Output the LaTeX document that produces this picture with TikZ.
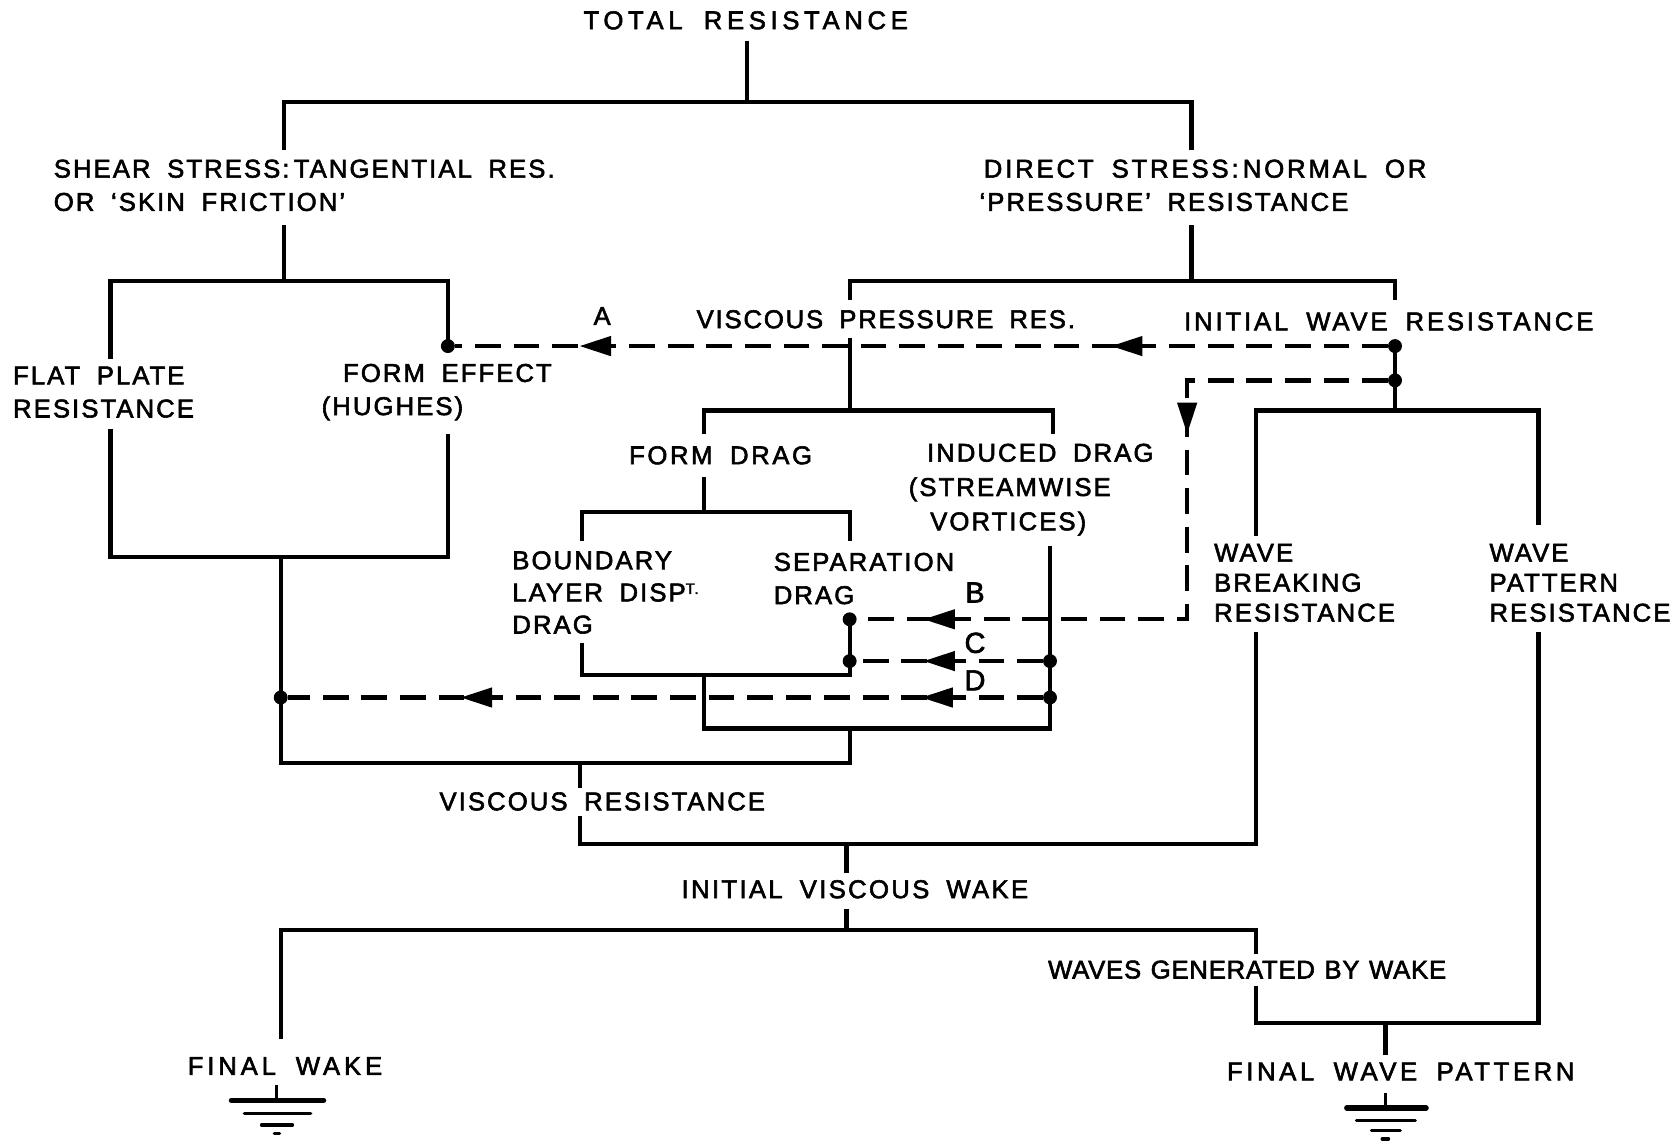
\documentclass[tikz,border=0pt]{standalone}
\usepackage{fontspec}
\setmainfont{Liberation Sans}[LetterSpace=8,WordSpace=1.8,FakeBold=2.2]
\newfontfamily\narrowlbl{Liberation Sans}[LetterSpace=3,WordSpace=1.2,FakeBold=2.2]
\usetikzlibrary{decorations.markings}
\begin{document}
\begin{tikzpicture}[x=1pt,y=-1pt,
  lbl/.style={inner sep=0pt, anchor=west, align=left, font=\fontsize{24}{31}\selectfont},
  clbl/.style={inner sep=0pt, anchor=center, align=center, font=\fontsize{24}{31}\selectfont},
  solidline/.style={line width=4pt, line cap=butt, line join=miter},
  dashline/.style={line width=4pt, dash pattern=on 24pt off 12pt},
  junc/.style={circle, fill=black, inner sep=0pt, minimum size=13pt},
  tipat/.style={postaction={decorate, decoration={markings,
      mark=at position #1 with {\fill[solid] (0pt,0pt) -- (-29pt,9.5pt) -- (-29pt,-9.5pt) -- cycle;}}}},
  groundline/.style={line width=3pt, line cap=round}
]
\fill[white] (0,0) rectangle (1568,1068);
\useasboundingbox (0,0) rectangle (1568,1068);

% ---------- texts ----------
\node[clbl] (total) at (696,19) {\addfontfeature{LetterSpace=18}TOTAL RESISTANCE};
\node[lbl] (shear) at (50,173) {SHEAR STRESS:\,TANGENTIAL RES.\\OR ‘SKIN FRICTION’};
\node[lbl] (direct) at (914,173) {\addfontfeature{LetterSpace=11}\hspace*{4pt}DIRECT STRESS:\,NORMAL OR\\‘PRESSURE’ RESISTANCE};
\node[lbl] (flat) at (12,366) {FLAT PLATE\\RESISTANCE};
\node[lbl] (formeff) at (300,366) {\hspace*{20pt}FORM EFFECT\\(HUGHES)};
\node[lbl] (vpr) at (650,298) {\addfontfeature{LetterSpace=7}VISCOUS PRESSURE RES.};
\node[lbl] (iwr) at (1105,300) {\addfontfeature{LetterSpace=11}INITIAL WAVE RESISTANCE};
\node[clbl] (labA) at (562,295) {A};
\node[lbl] (formdrag) at (587,425) {\addfontfeature{LetterSpace=10}FORM DRAG};
\node[lbl, font=\fontsize{24}{32}\selectfont] (induced) at (848,457) {\hspace*{17pt}INDUCED DRAG\\(STREAMWISE\\\hspace*{20pt}VORTICES)};
\node[lbl, font=\fontsize{24}{30}\selectfont] (bl) at (478,553) {BOUNDARY\\LAYER DISP\raisebox{7pt}{\fontsize{14}{14}\selectfont T.}\\DRAG};
\node[lbl] (sep) at (722,540) {SEPARATION\\DRAG};
\node[clbl, font=\fontsize{27}{31}\selectfont] (labB) at (910,553) {B};
\node[clbl, font=\fontsize{27}{31}\selectfont] (labC) at (910,600) {C};
\node[clbl, font=\fontsize{27}{31}\selectfont] (labD) at (910,635) {D};
\node[lbl, font=\fontsize{24}{28}\selectfont] (wbr) at (1133,544) {WAVE\\BREAKING\\RESISTANCE};
\node[lbl, font=\fontsize{24}{28}\selectfont] (wpr) at (1390,544) {WAVE\\PATTERN\\RESISTANCE};
\node[lbl] (vr) at (410,748) {VISCOUS RESISTANCE};
\node[lbl] (ivw) at (636,830) {\addfontfeature{LetterSpace=9}INITIAL VISCOUS WAKE};
\node[lbl] (wgw) at (978,905) {\narrowlbl WAVES GENERATED BY WAKE};
\node[lbl] (fw) at (175,995) {\addfontfeature{LetterSpace=15}FINAL WAKE};
\node[lbl] (fwp) at (1145,1000) {\addfontfeature{LetterSpace=14}FINAL WAVE PATTERN};

% ---------- junction dots ----------
\node[junc] (dFE) at (418,323) {};
\node[junc] (dIW) at (1302,323) {};
\node[junc] (dIW2) at (1302,355) {};
\node[junc] (dB) at (793,578) {};
\node[junc] (dC) at (793,617) {};
\node[junc] (dCi) at (980,617) {};
\node[junc] (dDi) at (980,651) {};
\node[junc] (dD) at (262,651) {};

% ---------- coordinates ----------
\coordinate (t0) at (697,38);   \coordinate (t1) at (697,95);
\coordinate (s0) at (265,140);  \coordinate (s1) at (265,95);
\coordinate (s2) at (1112,95);  \coordinate (s3) at (1112,140);
\coordinate (sh0) at (265,210); \coordinate (sh1) at (265,262);
\coordinate (f0) at (103,335);  \coordinate (f1) at (103,262); \coordinate (f2) at (418,262);
\coordinate (g0) at (103,400);  \coordinate (g1) at (103,520); \coordinate (g2) at (418,520); \coordinate (g3) at (418,405);
\coordinate (h0) at (262,520);  \coordinate (h1) at (262,712); \coordinate (h2) at (793,712); \coordinate (h3) at (793,680);
\coordinate (ds0) at (1112,210); \coordinate (ds1) at (1112,262);
\coordinate (p0) at (793,280);  \coordinate (p1) at (793,262); \coordinate (p2) at (1302,262); \coordinate (p3) at (1302,280);
\coordinate (v0) at (793,315);  \coordinate (v1) at (793,383);
\coordinate (q0) at (657,405);  \coordinate (q1) at (657,383); \coordinate (q2) at (983,383); \coordinate (q3) at (983,405);
\coordinate (fd0) at (657,445); \coordinate (fd1) at (657,478);
\coordinate (r0) at (543,505);  \coordinate (r1) at (543,478); \coordinate (r2) at (793,478); \coordinate (r3) at (793,505);
\coordinate (b0) at (543,600);  \coordinate (b1) at (543,630); \coordinate (b2) at (793,630);
\coordinate (i0) at (980,510);  \coordinate (i1) at (980,680); \coordinate (i2) at (657,680); \coordinate (i3) at (657,630);
\coordinate (w1) at (1302,383);
\coordinate (wb0) at (1172,500); \coordinate (wb1) at (1172,383); \coordinate (wp1) at (1436,383); \coordinate (wp0) at (1436,490);
\coordinate (vr0) at (541,712); \coordinate (vr1) at (541,735);
\coordinate (vr2) at (541,762); \coordinate (vr3) at (541,788); \coordinate (wb3) at (1172,788); \coordinate (wb2) at (1172,590);
\coordinate (iv0) at (790,788); \coordinate (iv1) at (790,815);
\coordinate (iv2) at (790,848); \coordinate (iv3) at (790,868);
\coordinate (fw0) at (262,970); \coordinate (fw1) at (262,868); \coordinate (wg1) at (1172,868); \coordinate (wg0) at (1172,890);
\coordinate (wg2) at (1172,920); \coordinate (wg3) at (1172,955); \coordinate (wp3) at (1436,955); \coordinate (wp2) at (1436,590);
\coordinate (fp0) at (1293,955); \coordinate (fp1) at (1293,985);
\coordinate (bc1) at (1108,355); \coordinate (bc2) at (1108,578);

% ---------- solid connectors ----------
\begin{scope}[solidline]
\draw (t0) -- (t1);
\draw (s0) -- (s1) -- (s2) -- (s3);
\draw (sh0) -- (sh1);
\draw (f0) -- (f1) -- (f2) -- (dFE.center);
\draw (g0) -- (g1) -- (g2) -- (g3);
\draw (h0) -- (dD.center) -- (h1) -- (h2) -- (h3);
\draw (ds0) -- (ds1);
\draw (p0) -- (p1) -- (p2) -- (p3);
\draw (v0) -- (v1);
\draw (q0) -- (q1) -- (q2) -- (q3);
\draw (fd0) -- (fd1);
\draw (r0) -- (r1) -- (r2) -- (r3);
\draw (b0) -- (b1) -- (b2) -- (dC.center) -- (dB.center);
\draw (i0) -- (dCi.center) -- (dDi.center) -- (i1) -- (i2) -- (i3);
\draw (dIW.center) -- (dIW2.center) -- (w1);
\draw (wb0) -- (wb1) -- (wp1) -- (wp0);
\draw (vr0) -- (vr1);
\draw (vr2) -- (vr3) -- (wb3) -- (wb2);
\draw (iv0) -- (iv1);
\draw (iv2) -- (iv3);
\draw (fw0) -- (fw1) -- (wg1) -- (wg0);
\draw (wg2) -- (wg3) -- (wp3) -- (wp2);
\draw (fp0) -- (fp1);
\end{scope}

% ---------- dashed connectors ----------
\draw[dashline, tipat=258pt, tipat=754pt] (dIW) -- (dFE);
\draw[dashline, tipat=237pt, tipat=656pt] (dIW2) -- (bc1) -- (bc2) -- (dB);
\draw[dashline, tipat=111pt] (dCi) -- (dC);
\draw[dashline, tipat=113pt, tipat=543pt] (dDi) -- (dD);

% ---------- earth symbols ----------
\coordinate (e1) at (258,1013);
\draw[line width=3pt] (e1) -- ++(0,14);
\draw[line width=5pt, line cap=round] ([xshift=-42pt,yshift=-14pt]e1) -- ([xshift=44pt,yshift=-14pt]e1);
\draw[groundline] ([xshift=-30pt,yshift=-26pt]e1) -- ([xshift=32pt,yshift=-26pt]e1);
\draw[groundline] ([xshift=-14pt,yshift=-37pt]e1) -- ([xshift=15pt,yshift=-37pt]e1);
\draw[groundline] ([xshift=-2pt,yshift=-45pt]e1) -- ([xshift=3pt,yshift=-45pt]e1);

\coordinate (e2) at (1293,1020);
\draw[line width=3pt] (e2) -- ++(0,14);
\draw[line width=5pt, line cap=round] ([xshift=-36pt,yshift=-14pt]e2) -- ([xshift=38pt,yshift=-14pt]e2);
\draw[groundline] ([xshift=-27pt,yshift=-26pt]e2) -- ([xshift=28pt,yshift=-26pt]e2);
\draw[groundline] ([xshift=-13pt,yshift=-35pt]e2) -- ([xshift=14pt,yshift=-35pt]e2);
\draw[groundline] ([xshift=-3pt,yshift=-43pt]e2) -- ([xshift=3pt,yshift=-43pt]e2);
\end{tikzpicture}
\end{document}
